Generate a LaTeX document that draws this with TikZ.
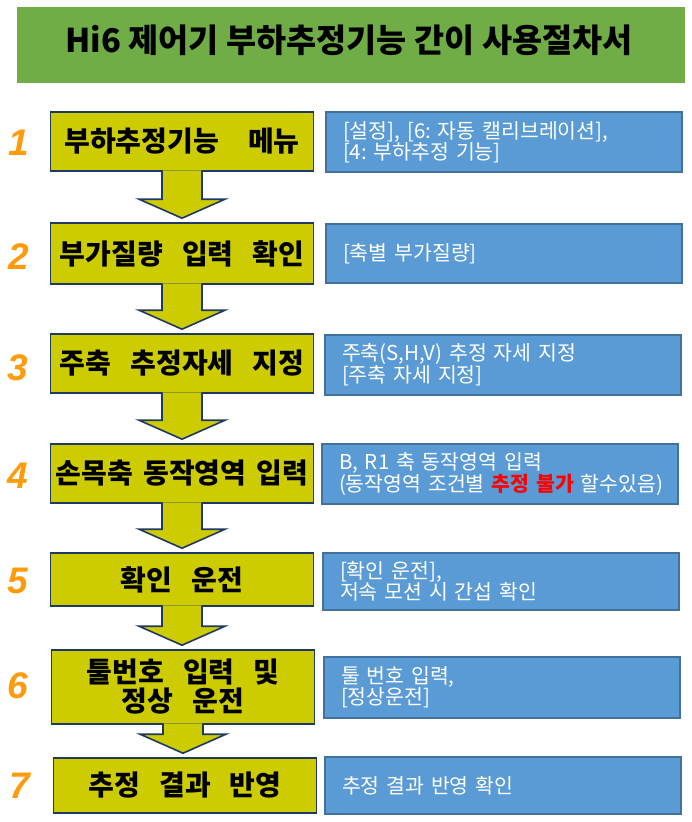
\documentclass[tikz,border=0pt]{standalone}
\usepackage{fontspec}
\setmainfont{Noto Sans CJK KR}
\newfontfamily\stepfont{Noto Sans CJK KR}[WordSpace=3]
\newfontfamily\numfont{Liberation Sans}
\usetikzlibrary{calc}
\frenchspacing

\definecolor{titlegreen}{HTML}{70AD47}
\definecolor{stepyellow}{HTML}{CCCC00}
\definecolor{stepline}{HTML}{1F3864}
\definecolor{noteblue}{HTML}{5B9BD5}
\definecolor{noteline}{HTML}{41719C}
\definecolor{numorange}{HTML}{FF9A0A}

\begin{document}
\begin{tikzpicture}[
  x=1pt, y=-1pt,
  titlebox/.style={rectangle, fill=titlegreen, minimum width=668pt, minimum height=76pt, inner sep=0pt},
  stepbox/.style={rectangle, fill=stepyellow, draw=stepline, line width=1.6pt, minimum width=263pt, inner sep=0pt, align=center, font=\stepfont\bfseries\fontsize{28}{29}\selectfont},
  notebox/.style={rectangle, fill=noteblue, draw=noteline, line width=2pt, minimum width=356pt, text width=322pt, inner xsep=17pt, inner ysep=0pt, align=left, text=white, font=\fontsize{20.5}{21}\selectfont},
  stepnum/.style={text=numorange, font=\numfont\bfseries\itshape\fontsize{37}{40}\selectfont},
  flowarrow/.style={fill=stepyellow, draw=stepline, line width=1.6pt, line join=miter,
    to path={($(\tikztostart.south)+(-20pt,1.5pt)$) -- ($(\tikztostart.south |- \tikztotarget.north)+(-20pt,23pt)$)
      -- ++(-23pt,0pt) -- ($(\tikztostart.south |- \tikztotarget.north)+(0pt,4pt)$)
      -- ($(\tikztostart.south |- \tikztotarget.north)+(43pt,23pt)$) -- ++(-23pt,0pt)
      -- ($(\tikztostart.south)+(20pt,1.5pt)$)}}
]
\useasboundingbox (0,0) rectangle (691,822);

\node[titlebox] (title) at (351,45) {};
\node[font=\bfseries\fontsize{32.7}{36}\selectfont] (titletext) at (349,40) {Hi6 제어기 부하추정기능 간이 사용절차서};

% Steps
\node[stepbox, minimum height=59pt] (s1) at (182,141.5) {부하추정기능\hspace{10pt} 메뉴};
\node[stepbox, minimum height=61pt] (s2) at (182,253.5) {부가질량 입력 확인};
\node[stepbox, minimum height=59pt] (s3) at (182,363.5) {주축 추정자세 지정};
\node[stepbox, minimum height=59pt] (s4) at (182,473.5) {손목축\hspace{-9pt} 동작영역\hspace{-9pt} 입력};
\node[stepbox, minimum height=53pt] (s5) at (182,579.5) {확인 운전};
\node[stepbox, minimum height=74pt] (s6) at (183,687) {툴번호 입력 및\\정상 운전};
\node[stepbox, minimum height=55pt] (s7) at (185,785.5) {추정 결과 반영};

% Step numbers
\node[stepnum] (n1) at (19,143) {1};
\node[stepnum] (n2) at (19,257) {2};
\node[stepnum] (n3) at (18,368) {3};
\node[stepnum] (n4) at (18,476) {4};
\node[stepnum] (n5) at (18,581) {5};
\node[stepnum] (n6) at (18,686) {6};
\node[stepnum] (n7) at (20,786) {7};

% Notes
\node[notebox, minimum height=60pt] (d1) at (504,142) {[설정], [6: 자동 캘리브레이션],\\{}[4: 부하추정 기능]};
\node[notebox, minimum height=59pt] (d2) at (504,253.5) {[축별 부가질량]};
\node[notebox, minimum height=60pt] (d3) at (503,365) {주축(S,H,V) 추정 자세 지정\\{}[주축 자세 지정]};
\node[notebox, minimum height=60pt] (d4) at (500,474) {B, R1 축 동작영역 입력\\\mbox{(동작영역 조건별 {\color{red}\bfseries 추정 불가} 할수있음)}};
\node[notebox, minimum height=57pt] (d5) at (501,581.5) {[확인 운전],\\저속 모션 시 간섭 확인};
\node[notebox, minimum height=61pt] (d6) at (502,687.5) {툴 번호 입력,\\{}[정상운전]};
\node[notebox, minimum height=57pt] (d7) at (503,785.5) {추정 결과 반영 확인};

% Flow arrows
\draw[flowarrow] (s1) to (s2);
\draw[flowarrow] (s2) to (s3);
\draw[flowarrow] (s3) to (s4);
\draw[flowarrow] (s4) to (s5);
\draw[flowarrow] (s5) to (s6);
\draw[flowarrow] (s6) to (s7);

\end{tikzpicture}
\end{document}
